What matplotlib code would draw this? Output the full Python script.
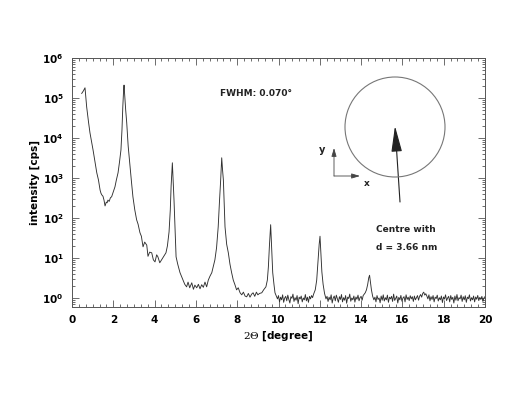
import numpy as np
import matplotlib
matplotlib.use('Agg')
import matplotlib.pyplot as plt
from matplotlib.patches import Ellipse
from matplotlib.ticker import MultipleLocator, LogLocator, FixedLocator, FixedFormatter, NullFormatter

plt.rcParams['font.family'] = 'DejaVu Sans'
plt.rcParams['mathtext.fontset'] = 'custom'
plt.rcParams['mathtext.rm'] = 'DejaVu Serif'
plt.rcParams['mathtext.bf'] = 'DejaVu Sans:bold'
plt.rcParams['mathtext.it'] = 'DejaVu Serif:italic'

# main part of the scan
theta_main = [0.47, 0.55, 0.63, 0.71, 0.80, 0.87, 0.95, 1.02, 1.10, 1.20, 1.28, 1.36, 1.40,
              1.44, 1.50, 1.55, 1.60, 1.66, 1.70, 1.74, 1.80, 1.86, 1.92, 2.00, 2.08, 2.15,
              2.23, 2.30, 2.37, 2.42, 2.46, 2.50, 2.52, 2.56, 2.60, 2.65, 2.72, 2.81, 2.88,
              2.95, 3.04, 3.13, 3.20, 3.29, 3.36, 3.44, 3.52, 3.62, 3.68, 3.76, 3.86, 3.94,
              4.02, 4.10, 4.16, 4.25, 4.34, 4.45, 4.55, 4.62, 4.70, 4.76, 4.80, 4.86, 4.90,
              4.94, 5.00, 5.04, 5.12, 5.23, 5.30, 5.38, 5.46, 5.55, 5.62, 5.70, 5.80, 5.88,
              5.95, 6.04, 6.12, 6.20, 6.28, 6.36, 6.44, 6.52, 6.60, 6.68, 6.77, 6.85, 6.92,
              7.00, 7.08, 7.14, 7.20, 7.25, 7.29, 7.33, 7.41, 7.49, 7.57, 7.65, 7.73, 7.81,
              7.89, 7.97, 8.05, 8.14, 8.22, 8.30, 8.38, 8.46, 8.54, 8.62, 8.70, 8.77, 8.85,
              8.93, 9.00, 9.08, 9.19, 9.28, 9.39, 9.46, 9.51, 9.56, 9.62, 9.67, 9.72, 9.78,
              9.83, 9.90]
cps_main = [1.3e5, 1.5e5, 1.8e5, 6.0e4, 2.5e4, 1.35e4, 8.0e3, 5.0e3, 2.8e3, 1.35e3, 9.0e2,
            5.0e2, 4.2e2, 3.8e2, 3.5e2, 2.8e2, 2.0e2, 2.5e2, 2.4e2, 2.8e2, 2.6e2, 3.2e2,
            3.4e2, 4.5e2, 6.0e2, 9.0e2, 1.35e3, 2.5e3, 5.0e3, 1.6e4, 6.0e4, 1.6e5, 2.1e5,
            1.0e5, 5.0e4, 2.4e4, 6.3e3, 1.9e3, 8.0e2, 3.4e2, 1.6e2, 90, 70, 43, 35, 19, 25,
            21, 11, 14, 13.5, 9, 8, 12, 10.7, 7.6, 9, 11, 13.5, 20, 45, 160, 630, 2400, 800,
            280, 40, 10.7, 7, 4.3, 3.5, 2.8, 2.2, 1.9, 2.5, 1.8, 2.4, 1.65, 2.1, 1.8, 2.2,
            1.7, 2.15, 1.85, 2.5, 1.9, 2.8, 3.5, 4.3, 6.3, 9, 18, 60, 250, 900, 3200, 1600,
            900, 60, 22, 13.5, 7, 4.3, 2.8, 2.15, 1.6, 1.8, 1.35, 1.2, 1.4, 1.12, 1.07, 1.3,
            1.05, 1.25, 1.35, 1.1, 1.4, 1.2, 1.3, 1.35, 1.6, 1.9, 2.8, 6, 20, 68, 16, 4.3,
            2.2, 1.35, 1.1]

# background 9.95 - 11.65
cps_base1 = [0.95, 1.15, 0.80, 1.05, 0.90, 1.20, 0.78, 1.00, 1.10, 0.85, 1.18, 0.92, 0.75,
             1.08, 0.98, 1.25, 0.82, 1.02, 0.88, 1.15, 0.72, 1.05, 0.95, 1.12, 0.80, 1.00,
             0.90, 1.22, 0.85, 1.05, 0.78, 1.10, 0.95, 1.15, 1.02]

theta_p12 = [11.70, 11.78, 11.85, 11.92, 11.97, 12.01, 12.05, 12.10, 12.16, 12.23, 12.30]
cps_p12 = [1.25, 1.6, 2.8, 9, 22, 35, 14, 4.5, 2.2, 1.3, 0.95]

# background 12.35 - 14.20
cps_base2 = [1.10, 0.82, 1.05, 0.90, 1.20, 0.75, 1.00, 1.12, 0.85, 1.18, 0.95, 0.78, 1.08,
             0.92, 1.22, 0.80, 1.02, 0.88, 1.15, 0.74, 1.05, 0.97, 1.25, 0.83, 1.00, 0.90,
             1.12, 0.79, 1.06, 0.93, 1.18, 0.85, 1.02, 1.10, 0.88, 1.15, 1.25, 1.35]

theta_p14 = [14.26, 14.32, 14.37, 14.41, 14.45, 14.50, 14.56, 14.62]
cps_p14 = [1.6, 2.2, 3.2, 3.7, 2.6, 1.6, 1.1, 0.9]

# background 14.67 - 20.0
cps_base3 = [1.05, 0.80, 1.15, 0.92, 1.00, 0.76, 1.12, 0.88, 1.20, 0.84,
             1.02, 0.90, 1.18, 0.78, 1.05, 0.95, 1.10, 0.82, 1.25, 0.87,
             0.98, 1.12, 0.75, 1.04, 0.90, 1.16, 0.83, 1.00, 1.08, 0.80,
             1.20, 0.92, 1.05, 0.86, 1.14, 0.95, 1.08, 0.82, 1.12, 0.90,
             1.02, 1.15, 0.88, 1.10, 1.22, 1.05, 1.30, 1.40, 1.18, 1.28,
             1.12, 0.95, 1.20, 0.85, 1.08, 0.92, 1.15, 0.80, 1.05, 0.97,
             1.18, 0.84, 1.02, 0.90, 1.12, 0.77, 1.06, 0.94, 1.20, 0.86,
             1.00, 1.10, 0.80, 1.15, 0.92, 1.04, 0.75, 1.12, 0.88, 1.22,
             0.85, 1.02, 0.95, 1.18, 0.82, 1.08, 0.90, 1.14, 0.78, 1.05,
             0.96, 1.20, 0.84, 1.02, 0.90, 1.12, 0.80, 1.06, 0.93, 1.16,
             0.86, 1.04, 0.92, 1.10, 0.82, 1.00, 1.08]

theta = np.concatenate([theta_main,
                        np.linspace(9.95, 11.65, len(cps_base1)),
                        theta_p12,
                        np.linspace(12.35, 14.20, len(cps_base2)),
                        theta_p14,
                        np.linspace(14.67, 20.0, len(cps_base3))])
cps = np.concatenate([cps_main, cps_base1, cps_p12, cps_base2, cps_p14, cps_base3])

W, H = 524, 393
fig = plt.figure(figsize=(W / 100, H / 100), dpi=100)
ax = fig.add_axes([72 / W, 1 - 307 / H, 413 / W, 249 / H])

ax.plot(theta, cps, color='#303030', lw=0.65)
ax.set_yscale('log')
ax.set_xlim(0, 20)
ax.set_ylim(10 ** -0.225, 1e6)

ax.xaxis.set_major_locator(MultipleLocator(2))
ax.xaxis.set_minor_locator(MultipleLocator(2 / 6))
ax.yaxis.set_major_locator(FixedLocator([10.0 ** k for k in range(7)]))
ax.yaxis.set_major_formatter(FixedFormatter([r'$\mathbf{10^{%d}}$' % k for k in range(7)]))
ax.yaxis.set_minor_locator(LogLocator(base=10, subs=np.arange(2, 10), numticks=20))
ax.yaxis.set_minor_formatter(NullFormatter())

ax.tick_params(which='both', direction='in', top=True, right=True, color='#555555', width=0.6)
ax.tick_params(which='major', length=5, labelsize=7.5, pad=6)
ax.tick_params(which='minor', length=2.5)
for lab in ax.get_xticklabels():
    lab.set_fontweight('bold')
for sp in ax.spines.values():
    sp.set_linewidth(0.7)
    sp.set_color('#555555')

ax.set_ylabel('intensity [cps]', fontsize=7.5, fontweight='bold', labelpad=2)
ax.set_xlabel(r'$\mathrm{2\Theta}$ [degree]', fontsize=7.5, fontweight='bold', labelpad=3)

# annotations
fig.text(220 / W, 1 - 93 / H, 'FWHM: 0.070°', fontsize=6.5, fontweight='bold',
         color='#222222', va='center')
fig.text(376 / W, 1 - 230 / H, 'Centre with', fontsize=6.5, fontweight='bold',
         color='#222222', va='center')
fig.text(376 / W, 1 - 248 / H, 'd = 3.66 nm', fontsize=6.5, fontweight='bold',
         color='#222222', va='center')

fig.patches.append(Ellipse((395 / W, 1 - 127 / H), 100 / W, 100 / H,
                           transform=fig.transFigure, fill=False,
                           edgecolor='#777777', lw=0.8))
ax.annotate('', xy=(395 / W, 1 - 126 / H), xytext=(400 / W, 1 - 202 / H),
            xycoords='figure fraction', textcoords='figure fraction',
            arrowprops=dict(arrowstyle='-|>,head_length=1.6,head_width=0.33',
                            color='#222222', lw=0.8, shrinkA=0, shrinkB=0))

# little x/y axes sketch
ax.annotate('', xy=(334 / W, 1 - 148 / H), xytext=(334 / W, 1 - 176 / H),
            xycoords='figure fraction', textcoords='figure fraction',
            arrowprops=dict(arrowstyle='-|>,head_length=0.5,head_width=0.15',
                            color='#444444', lw=0.6, shrinkA=0, shrinkB=0))
ax.annotate('', xy=(360 / W, 1 - 176 / H), xytext=(334 / W, 1 - 176 / H),
            xycoords='figure fraction', textcoords='figure fraction',
            arrowprops=dict(arrowstyle='-|>,head_length=0.5,head_width=0.15',
                            color='#444444', lw=0.6, shrinkA=0, shrinkB=0))
fig.text(322 / W, 1 - 150 / H, 'y', fontsize=7, fontweight='bold', color='#222222',
         ha='center', va='center')
fig.text(367 / W, 1 - 183 / H, 'x', fontsize=6.5, fontweight='bold', color='#222222',
         ha='center', va='center')

fig.savefig('out.png', dpi=100)
